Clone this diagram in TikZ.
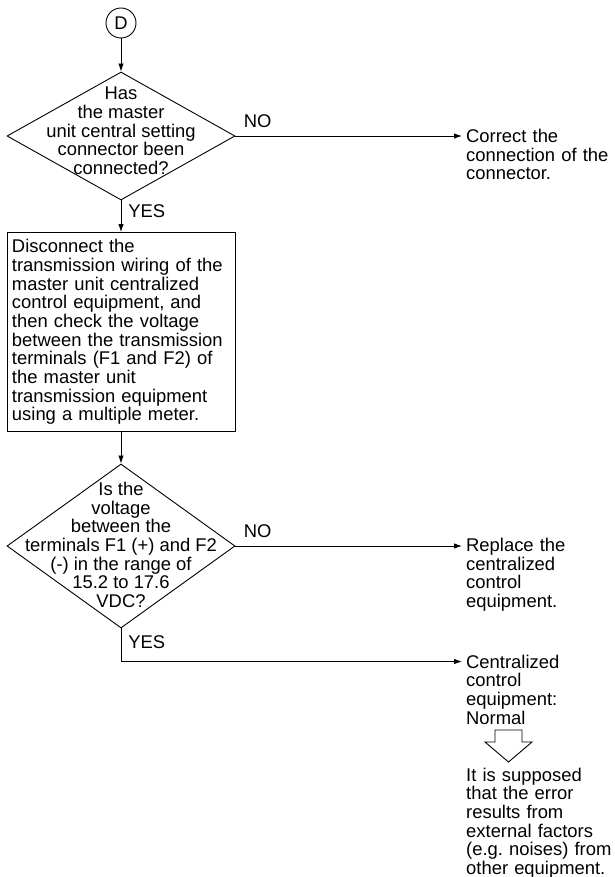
\documentclass[tikz,border=0pt]{standalone}
\usepackage{fontspec}
\setmainfont{Liberation Sans}
\usetikzlibrary{positioning,shapes.geometric,arrows.meta,calc}
\frenchspacing
\tikzset{
  >={Latex[length=8pt,width=5.5pt]},
  every node/.style={font=\fontsize{18.4}{18.7}\selectfont},
  % --- nodes
  conn/.style   = {circle, draw, line width=0.9pt, minimum size=30pt, inner sep=0pt},
  dec/.style    = {diamond, draw, line width=0.9pt, inner sep=0pt, minimum width=228pt},
  dectxt/.style = {align=center, inner sep=0pt},
  proc/.style   = {rectangle, draw, line width=0.9pt, align=left, text width=218pt,
                   inner xsep=5pt, inner ysep=0pt, minimum height=199pt},
  res/.style    = {anchor=base west, align=left, text width=150pt,
                   inner xsep=4pt, inner ysep=0pt},
  lbl/.style    = {inner sep=0pt},
  % --- edges
  e/.style      = {->, line width=0.9pt},
  hollow/.style = {draw, line width=0.9pt, line join=miter},
}
\begin{document}
\begin{tikzpicture}[x=1pt,y=-1pt]
  \useasboundingbox (0,0) rectangle (614,877);
  \node[conn] (d) at (121,23) {D};
  \node[dec, minimum height=128pt] (q1) at (121,136) {};
  \node[dectxt] (q1t) at ([yshift=5pt]q1.center) {Has\\the master\\unit central setting\\connector been\\connected?};
  \node[proc] (chk) at (121,332) {Disconnect the\\transmission wiring of the\\master unit centralized\\control equipment, and\\then check the voltage\\between the transmission\\terminals (F1 and F2) of\\the master unit\\transmission equipment\\using a multiple meter.};
  \node[dec, minimum height=164pt] (q2) at (121,546) {};
  \node[dectxt] (q2t) at ([yshift=1pt]q2.center) {Is the\\voltage\\between the\\terminals F1 (+) and F2\\(-) in the range of\\15.2 to 17.6\\VDC?};
  \node[res] (fix) at (462,142.5) {Correct the\\connection of the\\connector.};
  \node[res] (swap) at (462,551.5) {Replace the\\centralized\\control\\equipment.};
  \node[res] (ok) at (462,668) {Centralized\\control\\equipment:\\Normal};
  \node[res] (why) at (462,781) {It is supposed\\that the error\\results from\\external factors\\(e.g. noises) from\\other equipment.};
  \draw[e] (d) -- (q1);
  \draw[e] (q1) -- node[lbl, pos=0.35, right=7pt] (yes1) {YES} (chk);
  \draw[e] (q1.east) -- node[lbl, pos=0, anchor=south west, xshift=8pt, yshift=8pt] (no1) {NO} (q1.east -| fix.west);
  \draw[e] (chk) -- (q2);
  \draw[e] (q2.east) -- node[lbl, pos=0, anchor=south west, xshift=8pt, yshift=8pt] (no2) {NO} (q2.east -| swap.west);
  \draw[e] (q2.south) |- node[lbl, pos=0.21, right=7pt] (yes2) {YES} ([yshift=6.5pt]ok.base west);
  % hollow arrow down to the note
  \draw[hollow] (495,730) -- (522,730) -- (522,742) -- (532,742) -- (508.5,762) -- (485,742) -- (495,742) -- cycle;
\end{tikzpicture}
\end{document}
